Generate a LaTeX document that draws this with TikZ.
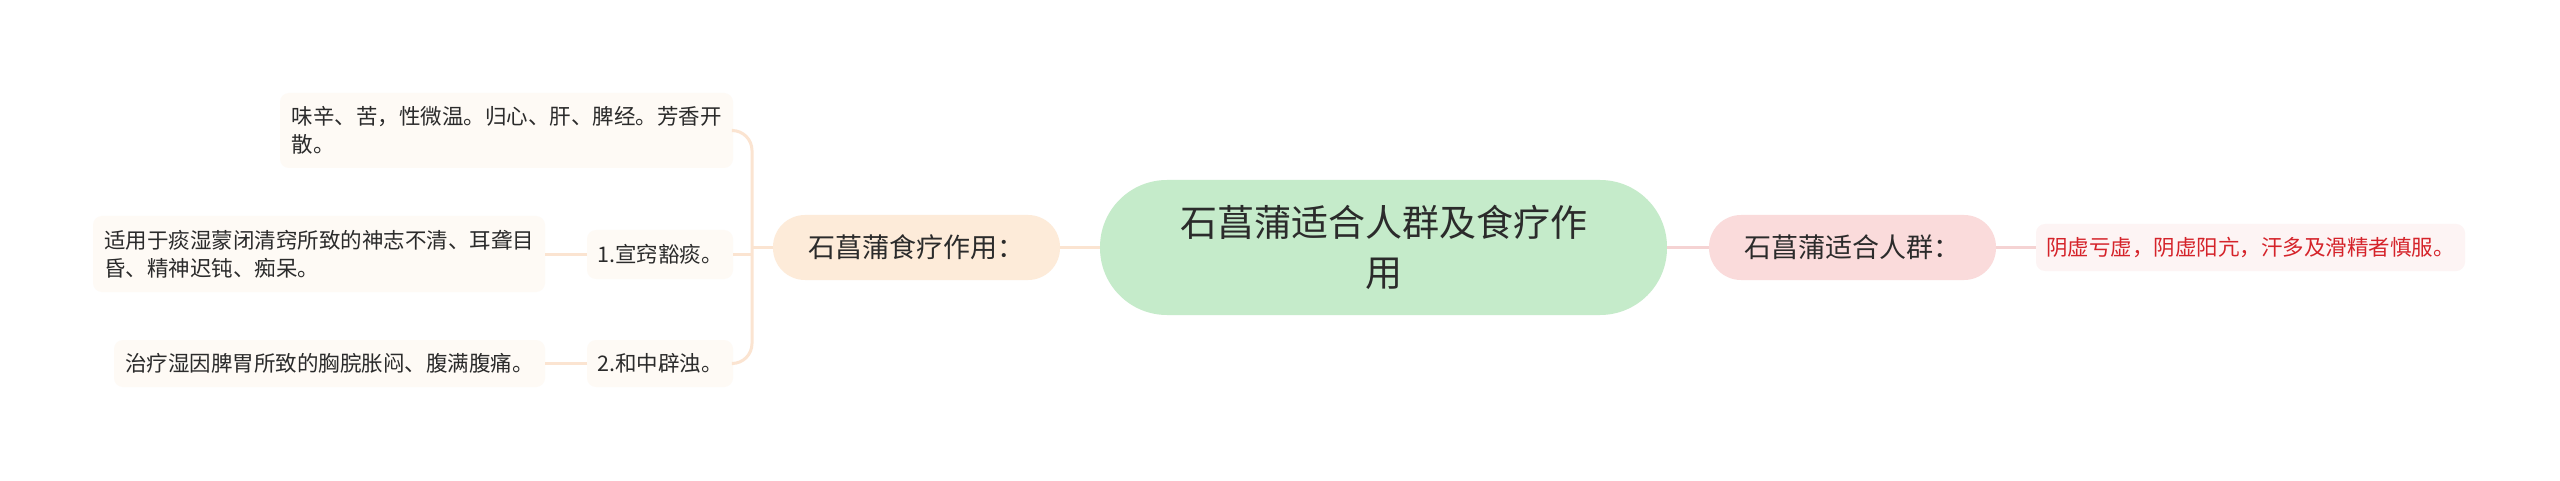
\documentclass[tikz,border=0pt]{standalone}
\usepackage{fontspec}
\setmainfont{Noto Sans CJK SC}
\definecolor{centerfill}{HTML}{C5EBCA}
\definecolor{leftfill}{HTML}{FDEBD9}
\definecolor{rightfill}{HTML}{FADBDB}
\definecolor{leafleft}{HTML}{FEFAF5}
\definecolor{leafright}{HTML}{FDF4F4}
\definecolor{lineleft}{HTML}{FBE4D1}
\definecolor{lineright}{HTML}{F5D3D3}
\definecolor{txt}{HTML}{2B2B2B}
\definecolor{redtxt}{HTML}{D5232A}
\tikzset{
  base/.style={inner sep=0pt, outer sep=0pt, text=txt},
  leafbox/.style={base, fill=leafleft, rounded corners=9pt, font=\fontsize{21.5}{28}\selectfont},
  mainbox/.style={base, rounded corners=32pt, font=\fontsize{27}{32}\selectfont, minimum width=287pt, minimum height=65pt},
  linkL/.style={draw=lineleft, line width=3pt},
  linkR/.style={draw=lineright, line width=3pt}
}
\begin{document}
\begin{tikzpicture}[x=1pt,y=-1pt]
\useasboundingbox (0,0) rectangle (2560,481);
\fill[white] (0,0) rectangle (2560,481);

% center
\node[base, fill=centerfill, rounded corners=67pt, minimum width=567pt, minimum height=135pt,
      align=center, font=\fontsize{37}{50}\selectfont] (root) at (1383.5,247.5)
  {石菖蒲适合人群及食疗作\\用};

% main branches
\node[mainbox, fill=leftfill] (food) at (916.5,247.5) {石菖蒲食疗作用：};
\node[mainbox, fill=rightfill] (people) at (1852.5,247.5) {石菖蒲适合人群：};

% right leaf
\node[leafbox, fill=leafright, text=redtxt, minimum width=429pt, minimum height=47pt] (caution) at (2250.5,247.5)
  {阴虚亏虚，阴虚阳亢，汗多及滑精者慎服。};

% left items
\node[leafbox, minimum width=146pt, minimum height=49pt] (item1) at (660,254.5) {1.宣窍豁痰。};
\node[leafbox, minimum width=146pt, minimum height=47pt] (item2) at (660,363.5) {2.和中辟浊。};

% left leaves
\node[leafbox, minimum width=453pt, minimum height=75pt, align=left] (leaf1) at (506.5,130.5)
  {味辛、苦，性微温。归心、肝、脾经。芳香开\\散。};
\node[leafbox, minimum width=452pt, minimum height=76pt, align=left] (leaf2) at (319,254)
  {适用于痰湿蒙闭清窍所致的神志不清、耳聋目\\昏、精神迟钝、痴呆。};
\node[leafbox, minimum width=431pt, minimum height=47pt] (leaf3) at (329.5,363.5)
  {治疗湿因脾胃所致的胸脘胀闷、腹满腹痛。};

% connectors
\coordinate (trunkmid) at (752,247.5);
\coordinate (trunkbot) at (752,363.5);
\begin{scope}[on background layer/.try]
\draw[linkL] (root.west) -- (food.west -| root.west) -- (food.east);
\draw[linkR] (root.east) -- (people.west);
\draw[linkR] (people.east) -- (caution.west);
\draw[linkL] (food.west) -- (trunkmid);
\draw[linkL, rounded corners=20pt] (leaf1.east) -| (trunkbot) -- (item2.east);
\draw[linkL] (item1.east) -- (item1.east -| trunkmid);
\draw[linkL] (item1.west) -- (leaf2.east |- item1.west);
\draw[linkL] (item2.west) -- (leaf3.east);
\end{scope}
\end{tikzpicture}
\end{document}
